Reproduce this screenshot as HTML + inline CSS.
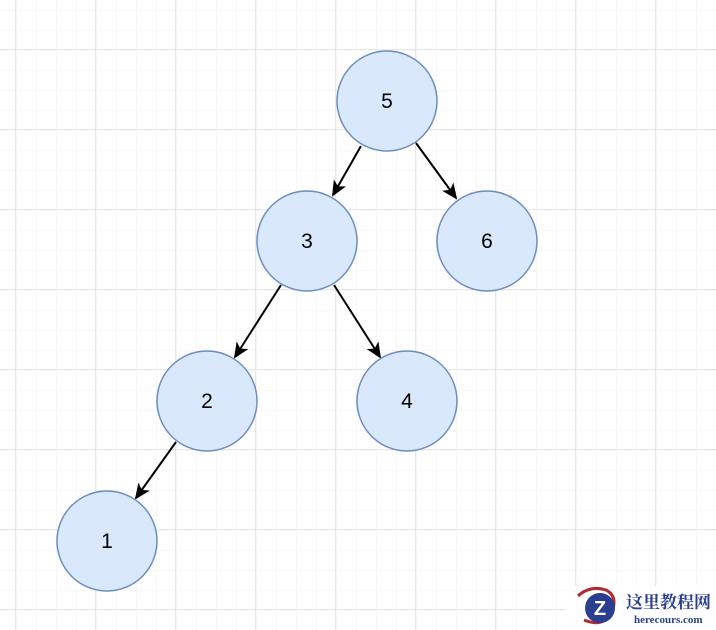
<!DOCTYPE html>
<html><head><meta charset="utf-8"><style>
html,body{margin:0;padding:0;background:#fff;}
</style></head><body>
<svg width="716" height="630" xmlns="http://www.w3.org/2000/svg" style="display:block">
<defs>
<pattern id="minor" x="16" y="10" width="20" height="20" patternUnits="userSpaceOnUse">
<path d="M0 0H20M0 0V20" stroke="#efefef" stroke-width="1" fill="none"/>
</pattern>
<pattern id="major" x="15.5" y="49.5" width="80" height="80" patternUnits="userSpaceOnUse">
<path d="M0 0H80M0 0V80" stroke="#d0d0d0" stroke-width="1" fill="none"/>
</pattern>
<marker id="ah" markerWidth="16" markerHeight="14" refX="14" refY="7" orient="auto" markerUnits="userSpaceOnUse" viewBox="0 0 16 14">
<path d="M0 0L16 7L0 14L4 7Z" fill="#000"/>
</marker>
</defs>
<rect width="716" height="630" fill="url(#minor)"/>
<rect width="716" height="630" fill="url(#major)"/>
<g stroke="#000" stroke-width="2" marker-end="url(#ah)">
<line x1="361" y1="146" x2="333" y2="195"/>
<line x1="416" y1="143" x2="456" y2="198"/>
<line x1="281" y1="285" x2="235" y2="357"/>
<line x1="334" y1="285" x2="380" y2="357"/>
<line x1="176" y1="442" x2="136" y2="498"/>
</g>
<g fill="#dae8fc" stroke="#6c8ebf" stroke-width="1.5">
<circle cx="387" cy="101" r="50"/>
<circle cx="307" cy="241" r="50"/>
<circle cx="487" cy="241" r="50"/>
<circle cx="207" cy="401" r="50"/>
<circle cx="407" cy="401" r="50"/>
<circle cx="107" cy="541" r="50"/>
</g>
<g font-family="Liberation Sans, sans-serif" font-size="21" text-anchor="middle" fill="#000">
<text x="387" y="108">5</text>
<text x="307" y="248">3</text>
<text x="487" y="248">6</text>
<text x="207" y="408">2</text>
<text x="407" y="408">4</text>
<text x="107" y="548">1</text>
</g>
<rect x="566" y="586" width="150" height="44" fill="#fff"/>
<path d="M578 596 Q590 585 606 590 Q618 596 612 612 Q604 628 584 620" stroke="#b02a30" stroke-width="3" fill="none"/>
<circle cx="600" cy="608" r="15" fill="#2a3f8f"/>
<text x="600" y="615" font-family="Liberation Sans, sans-serif" font-weight="bold" font-size="20" fill="#fff" text-anchor="middle">Z</text>
<text x="626" y="608" font-family="Liberation Serif, 'Noto Serif CJK SC', serif" font-weight="bold" font-size="17" fill="#2a3f8f">这里教程网</text>
<text x="634" y="623" font-family="Liberation Serif, serif" font-weight="bold" font-size="11" fill="#2a3f8f">herecours.com</text>
</svg>
</body></html>
